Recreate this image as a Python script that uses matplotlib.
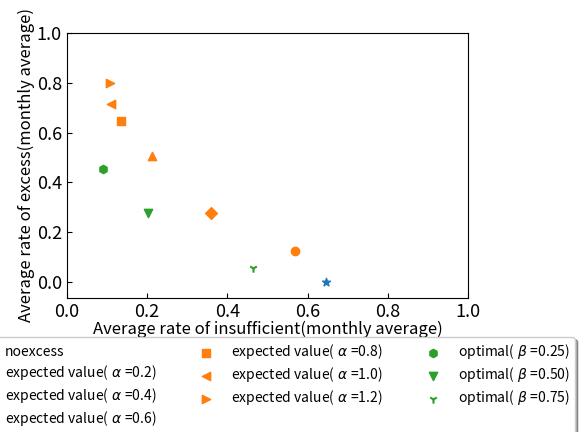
import matplotlib.pyplot as plt

plt.rcParams['font.family'] = ['Noto Sans CJK JP', 'DejaVu Sans']

# points
labels = ['noexcess',
          'expected value($\\;\\alpha\\;$=0.2)', 'expected value($\\;\\alpha\\;$=0.4)',
          'expected value($\\;\\alpha\\;$=0.6)', 'expected value($\\;\\alpha\\;$=0.8)',
          'expected value($\\;\\alpha\\;$=1.0)', 'expected value($\\;\\alpha\\;$=1.2)',
          'optimal($\\;\\beta\\;$=0.25)', 'optimal($\\;\\beta\\;$=0.50)',
          'optimal($\\;\\beta\\;$=0.75)']
insufficient = [0.645, 0.568, 0.359, 0.213, 0.136, 0.111, 0.107, 0.089, 0.203, 0.463]
excess = [0.0, 0.124, 0.278, 0.506, 0.647, 0.716, 0.798, 0.455, 0.278, 0.058]
markers = ['*', 'o', 'D', '^', 's', '<', '>', 'h', 'v', '1']
colors = ['C0'] + ['C1'] * 6 + ['C2'] * 3

fig = plt.figure(figsize=(5.86, 4.32), dpi=100)
ax = fig.add_axes([0.114, 0.31, 0.685, 0.614])

for x, y, m, c, lab in zip(insufficient, excess, markers, colors, labels):
    ax.scatter(x, y, marker=m, color=c, label=lab, s=36)

ax.set_xlim(0, 1.0)
ax.set_ylim(-0.064, 1.0)
ax.tick_params(direction='in', labelsize=13)
ax.set_xlabel('Average rate of insufficient(monthly average)', fontsize=12, labelpad=0)
ax.set_ylabel('Average rate of excess(monthly average)', fontsize=12, labelpad=1)

ax.legend(loc='upper center', bbox_to_anchor=(0.5, -0.12), ncol=3,
          fontsize=10, shadow=True, columnspacing=2.6, labelspacing=0.28)

fig.savefig('out.png')
